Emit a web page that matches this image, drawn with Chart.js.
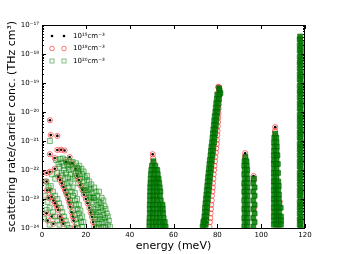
<!DOCTYPE html>
<html>
<head>
<meta charset="utf-8">
<script src="https://cdn.jsdelivr.net/npm/chart.js@4/dist/chart.umd.min.js"></script>
<style>html,body{margin:0;padding:0;background:#fff}</style>
</head>
<body>
<canvas id="c" width="339" height="254"></canvas>
<script>
// series labels
const labels = ['10¹⁵cm⁻³', '10¹⁸cm⁻³', '10²⁰cm⁻³'];
const xTicks = [0, 20, 40, 60, 80, 100, 120];

// 1e15: [energy meV, rate]
const pts15 = [
  // low energy arcs
  [3.6,5.2e-21],[4.0,1.6e-21],[7.0,1.5e-21],[3.6,3.5e-22],[7.0,4.9e-22],[8.7,5e-22],[10.3,4.7e-22],
  [5.8,2.6e-22],[12.6,2.8e-22],[11.0,1.9e-22],[13.8,1.7e-22],[5.8,1.1e-22],[15.3,1.1e-22],[3.6,8.7e-23],
  [16.0,6.3e-23],[16.8,4.5e-23],[17.5,3e-23],[18.4,2.1e-23],[19.1,1.4e-23],[20.0,1e-23],[20.8,7.1e-24],
  [21.6,5e-24],[22.2,3.4e-24],[22.8,2.4e-24],[23.3,1.6e-24],[23.8,1.1e-24],
  [7.4,5.9e-23],[8.3,4.5e-23],[9.0,3.5e-23],[9.8,2.6e-23],[10.5,2e-23],[11.3,1.4e-23],[12.0,1e-23],
  [12.5,7.6e-24],[12.9,5.4e-24],[13.5,3.5e-24],[14.0,2.5e-24],[14.4,1.8e-24],[15.0,1.1e-24],
  [2.1,7.9e-23],[2.1,4e-23],[2.3,2e-23],[3.6,2e-23],[4.4,1.2e-23],[5.2,8.9e-24],[5.9,7.1e-24],[6.7,5.4e-24],
  [7.4,4.2e-24],[8.2,2.5e-24],[9.0,1.9e-24],[9.7,1.4e-24],
  [2.1,3.2e-24],[2.6,1.8e-24],[5.2,1.4e-24],[4.4,2.5e-24],[3.0,1.1e-23],
  // peak tops
  [50.5,3.5e-22],[80.5,7.4e-20],[92.7,3.8e-22],[96.5,6.2e-23],[106.4,3e-21],
  // 118 meV column
  [117.8,3.5e-18],[118.0,1.3e-18],[117.7,5e-19],[118.0,1.6e-19],[117.8,5e-20],[118.1,2e-20],[117.7,6.3e-21],
  [118.0,2e-21],[117.8,6.3e-22],[118.2,2e-22],[117.7,6.3e-23],[118.0,2e-23],[117.8,6.3e-24],[117.9,2e-24]
];

// 1e18: same positions as 1e15 plus these
const pts18extra = [
  [50.7,2.5e-22],[51.0,1.8e-22],[49.6,3.2e-23],[51.2,1e-23],[52.6,5e-23],[50.2,3.2e-24],[53.2,1.6e-24],
  [51.6,1e-22],[54.5,4e-24],
  // 80 meV edge
  [80.5,7.1e-20],[80.7,5e-20],[80.8,3.5e-20],[80.8,2.5e-20],[80.7,1.8e-20],[80.6,1.3e-20],[80.5,8.9e-21],
  [80.4,6.3e-21],[80.3,4.5e-21],[80.2,3.2e-21],[80.1,2.2e-21],[80.0,1.6e-21],[79.8,1.1e-21],[79.7,7.9e-22],
  [79.5,5.6e-22],[79.3,4e-22],[79.1,2.8e-22],[78.9,2e-22],[78.7,1.4e-22],[78.5,1e-22],[78.3,7.1e-23],
  [78.2,5e-23],[78.0,3.5e-23],[77.9,2.5e-23],[77.7,1.8e-23],[77.5,1.3e-23],[77.4,8.9e-24],[77.2,6.3e-24],
  [77.1,4.5e-24],[76.9,3.2e-24],[76.8,2.2e-24],[76.6,1.6e-24],[76.4,1.1e-24],
  [92.6,2.8e-22],[93.0,2e-22],[92.4,3e-23],[93.4,4e-24],
  [96.6,4.5e-23],[96.8,5e-24],
  [106.3,2.2e-21],[106.5,1.6e-21],[105.9,2e-22],[106.1,4e-23],[108.5,8e-24],[107.8,1.9e-24]
];
const pts18 = pts15.concat(pts18extra);

// 1e20, low energy part (scattered squares)
const pts20low = [
  [3.6,1e-21],[1.7,4e-23],[2.1,4.2e-24],[0.9,2.1e-24],[1.5,1.3e-23],
  [6.5,2.2e-22],[8.2,2.4e-22],[9.5,2.5e-22],[11.0,2.2e-22],[12.5,2e-22],[14.0,1.9e-22],[15.5,1.7e-22],
  [17.0,1.4e-22],[18.0,1.1e-22],[8.0,1.3e-22],[10.0,1.4e-22],[12.0,1.3e-22],[14.0,1.1e-22],[16.5,8.9e-23],
  [18.5,7.1e-23],[19.5,5.6e-23],[7.0,7.9e-23],[9.0,7.9e-23],[11.0,7.9e-23],[13.0,7.1e-23],[15.0,6.3e-23],
  [17.5,5e-23],[19.0,4e-23],[20.5,4.5e-23],[18.5,2.8e-23],[20.0,2.5e-23],[21.5,2.5e-23],[22.5,3.2e-23],
  [20.0,1.6e-23],[21.5,1.4e-23],[23.0,1.6e-23],[24.5,1.8e-23],[26.0,1.8e-23],
  [21.5,8.9e-24],[23.0,7.9e-24],[24.5,8.9e-24],[26.0,7.9e-24],[27.2,1.1e-23],
  [22.5,5e-24],[24.0,4.5e-24],[25.5,5e-24],[27.0,5e-24],[28.5,5.6e-24],
  [23.5,2.8e-24],[25.0,2.8e-24],[26.5,2.5e-24],[28.0,2.8e-24],[29.5,3.2e-24],
  [24.5,1.6e-24],[26.0,1.4e-24],[27.5,1.6e-24],[29.0,1.6e-24],[30.5,1.8e-24],
  [25.0,1e-24],[27.0,1e-24],[29.0,1e-24],[31.0,1.1e-24],
  [19.0,2e-23],[20.8,2e-23],[22.2,2.2e-23],[23.8,2.5e-23],[25.2,1.3e-23],[22.3,1.1e-23],[23.8,1.1e-23],
  [25.3,6.3e-24],[26.8,7.1e-24],[28.0,8.9e-24],[23.2,3.5e-24],[24.8,3.5e-24],[26.2,3.5e-24],[27.7,4e-24],
  [29.0,4.5e-24],[24.2,2e-24],[25.8,2e-24],[27.2,2e-24],[28.7,2.2e-24],[30.0,2.5e-24],[26.0,1.1e-24],
  [28.0,1.1e-24],[30.0,1.3e-24],
  [9.0,6.3e-23],[10.5,5e-23],[11.5,3.5e-23],[12.5,2.5e-23],[13.5,1.8e-23],[14.2,1.3e-23],[15.0,8.9e-24],
  [15.5,6.3e-24],[16.2,4.5e-24],[16.8,3.2e-24],[17.3,2.2e-24],[17.8,1.6e-24],[18.3,1.1e-24],
  [10.0,3.2e-23],[11.0,1.8e-23],[12.0,1.3e-23],[12.8,8.9e-24],[13.5,6.3e-24],[14.2,4e-24],[15.0,2.8e-24],
  [15.5,2e-24],[16.0,1.4e-24],[16.5,1e-24],
  [11.8,5.6e-23],[13.0,4e-23],[14.0,2.5e-23],[15.0,1.6e-23],[16.0,1e-23],[16.8,6.3e-24],[17.5,4e-24],
  [18.2,2.5e-24],[18.9,1.6e-24],
  [4.0,2.8e-23],[5.0,1.8e-23],[6.0,1.3e-23],[7.0,1e-23],[7.8,7.1e-24],[8.5,5e-24],[9.3,3.5e-24],
  [10.0,2.5e-24],[10.8,1.8e-24],[11.5,1.3e-24],[12.2,1e-24],
  [2.5,7.9e-24],[3.5,5e-24],[5.0,3.5e-24],[6.0,2.5e-24],[7.0,1.8e-24],[8.0,1.3e-24],[3.5,1.3e-24],
  [4.5,7.1e-23],[6.0,5e-23],[3.0,2.5e-23],
  [9.0,1.8e-22],[11.5,1.6e-22],[13.0,1.5e-22],[16.0,1.2e-22],[10.0,1e-22],[12.5,1e-22],[15.5,8e-23],
  [17.0,7e-23],[14.0,5e-23],[16.5,3.5e-23],[19.5,2e-23],[22.0,1.2e-23],[23.5,1.1e-23],
  [7.5,1.6e-22],[16.5,1.1e-22],[19.0,8.9e-23],[20.5,6.3e-23],[21.5,4e-23]
];

// 1e20, dense peaks
const pts20peak = [
  // 51 meV peak
  [50.8,2e-22],
  [50.2,1.4e-22],[51.7,1.4e-22],
  [49.9,1e-22],[51.3,1e-22],[52.6,1e-22],
  [49.7,7.1e-23],[51.2,7.1e-23],[52.8,7.1e-23],
  [49.6,5e-23],[51.0,5e-23],[52.4,5e-23],[53.2,5e-23],
  [49.5,3.5e-23],[50.9,3.5e-23],[52.3,3.5e-23],[53.5,3.5e-23],
  [49.4,2.5e-23],[50.9,2.5e-23],[52.3,2.5e-23],[53.7,2.5e-23],
  [49.4,1.8e-23],[51.0,1.8e-23],[52.5,1.8e-23],[54.0,1.8e-23],
  [49.3,1.3e-23],[50.8,1.3e-23],[52.3,1.3e-23],[53.8,1.3e-23],
  [49.3,8.9e-24],[50.9,8.9e-24],[52.5,8.9e-24],[54.2,8.9e-24],
  [49.2,6.3e-24],[50.7,6.3e-24],[52.2,6.3e-24],[53.7,6.3e-24],[55.0,6.3e-24],
  [49.2,4.5e-24],[50.8,4.5e-24],[52.4,4.5e-24],[54.0,4.5e-24],[55.1,4.5e-24],
  [49.2,3.2e-24],[50.7,3.2e-24],[52.2,3.2e-24],[53.7,3.2e-24],[55.2,3.2e-24],
  [49.1,2.2e-24],[50.7,2.2e-24],[52.3,2.2e-24],[53.9,2.2e-24],[55.5,2.2e-24],
  [49.0,1.6e-24],[50.5,1.6e-24],[52.0,1.6e-24],[53.5,1.6e-24],[55.0,1.6e-24],[56.0,1.6e-24],
  [49.0,1.1e-24],[50.6,1.1e-24],[52.2,1.1e-24],[53.8,1.1e-24],[55.4,1.1e-24],[56.4,1.1e-24],
  // 80 meV band
  [80.8,6.6e-20],[81.0,5.6e-20],[81.4,4.5e-20],
  [80.0,4e-20],[80.9,4e-20],[79.8,2.8e-20],[80.7,2.8e-20],[79.5,2e-20],[80.4,2e-20],[79.3,1.4e-20],[80.2,1.4e-20],
  [79.1,1e-20],[80.0,1e-20],[78.8,7.1e-21],[79.7,7.1e-21],[78.6,5e-21],[79.5,5e-21],[78.4,3.5e-21],[79.3,3.5e-21],
  [78.2,2.5e-21],[79.1,2.5e-21],[78.0,1.8e-21],[78.9,1.8e-21],[77.8,1.3e-21],[78.7,1.3e-21],
  [77.6,8.9e-22],[78.5,8.9e-22],[77.3,6.3e-22],[78.2,6.3e-22],[77.1,4.5e-22],[78.0,4.5e-22],
  [76.9,3.2e-22],[77.8,3.2e-22],[76.6,2.2e-22],[77.5,2.2e-22],[76.4,1.6e-22],[77.3,1.6e-22],
  [76.2,1.1e-22],[77.1,1.1e-22],[76.0,7.9e-23],[76.9,7.9e-23],[75.8,5.6e-23],[76.7,5.6e-23],
  [75.6,4e-23],[76.5,4e-23],[75.4,2.8e-23],[76.3,2.8e-23],[75.2,2e-23],[76.1,2e-23],
  [75.0,1.4e-23],[75.9,1.4e-23],[74.8,1e-23],[75.7,1e-23],[74.6,7.1e-24],[75.5,7.1e-24],
  [74.4,5e-24],[75.3,5e-24],[74.3,3.5e-24],[75.2,3.5e-24],[74.1,2.5e-24],[75.0,2.5e-24],
  [74.0,1.8e-24],[74.9,1.8e-24],[73.8,1.3e-24],[74.7,1.3e-24],[73.3,1.1e-24],[73.6,1.6e-24],
  // 92 meV peak
  [92.8,2.8e-22],[92.4,2e-22],[93.3,2e-22],[92.3,1.4e-22],[93.4,1.4e-22],[92.5,1e-22],[93.6,1e-22],
  [92.3,7.1e-23],[93.4,7.1e-23],[92.5,5e-23],[93.7,5e-23],[92.3,3.5e-23],[93.5,3.5e-23],[92.5,2.5e-23],
  [93.7,2.5e-23],[92.3,1.8e-23],[93.5,1.8e-23],[92.5,1.3e-23],[93.7,1.3e-23],[92.3,8.9e-24],[93.5,8.9e-24],
  [92.5,6.3e-24],[93.7,6.3e-24],[92.3,4.5e-24],[93.5,4.5e-24],[92.5,3.2e-24],[93.7,3.2e-24],[92.3,2.2e-24],
  [93.5,2.2e-24],[92.5,1.6e-24],[93.7,1.6e-24],[92.3,1.1e-24],[93.5,1.1e-24],
  // 97 meV peak
  [96.7,5e-23],[96.4,3.5e-23],[97.0,2.5e-23],[96.4,1.8e-23],[97.0,1.3e-23],[96.4,8.9e-24],[97.0,6.3e-24],
  [96.4,4.5e-24],[97.0,3.2e-24],[96.4,2.2e-24],[97.0,1.6e-24],[96.4,1.1e-24],
  // 106 meV peak
  [106.4,1.8e-21],[106.0,1.3e-21],[106.9,1.3e-21],[105.9,8.9e-22],[107.0,8.9e-22],[106.0,6.3e-22],[107.1,6.3e-22],
  [105.9,4.5e-22],[107.0,4.5e-22],[105.8,3.2e-22],[106.9,3.2e-22],[107.4,3.2e-22],[105.9,2.2e-22],[107.0,2.2e-22],
  [105.8,1.6e-22],[106.8,1.6e-22],[107.6,1.6e-22],[105.9,1.1e-22],[107.0,1.1e-22],
  [105.8,7.9e-23],[106.8,7.9e-23],[107.7,7.9e-23],[105.9,5.6e-23],[107.0,5.6e-23],
  [105.8,4e-23],[106.8,4e-23],[107.8,4e-23],[105.9,2.8e-23],[107.0,2.8e-23],[108.0,2.8e-23],
  [105.8,2e-23],[106.9,2e-23],[107.8,2e-23],[105.9,1.4e-23],[107.0,1.4e-23],[108.1,1.4e-23],
  [105.8,1e-23],[106.9,1e-23],[108.0,1e-23],[105.9,7.1e-24],[107.0,7.1e-24],[108.2,7.1e-24],
  [105.8,5e-24],[106.9,5e-24],[108.0,5e-24],[108.9,5e-24],[105.9,3.5e-24],[107.0,3.5e-24],[108.2,3.5e-24],
  [105.8,2.5e-24],[106.9,2.5e-24],[108.0,2.5e-24],[109.0,2.5e-24],
  [105.9,1.8e-24],[107.0,1.8e-24],[108.1,1.8e-24],[109.1,1.8e-24],
  [105.8,1.3e-24],[106.9,1.3e-24],[108.0,1.3e-24],[109.0,1.3e-24],
  // 118 meV column
  [117.8,4e-18],[117.6,3.2e-18],[118.1,2.5e-18],[117.6,2e-18],[118.1,1.6e-18],[117.6,1.3e-18],[118.1,1e-18],
  [117.6,7.9e-19],[118.1,6.3e-19],[117.6,5e-19],[118.1,4e-19],[117.6,3.2e-19],[118.1,2.5e-19],[117.6,2e-19],
  [118.1,1.6e-19],[117.6,1.3e-19],[118.1,1e-19],
  [117.6,7.9e-20],[118.1,6.3e-20],[117.6,5e-20],[118.1,4e-20],[117.6,3.2e-20],[118.1,2.5e-20],[117.6,2e-20],
  [118.1,1.6e-20],[117.6,1.3e-20],[118.1,1e-20],
  [117.6,7.9e-21],[118.1,6.3e-21],[117.6,5e-21],[118.1,4e-21],[117.6,3.2e-21],[118.1,2.5e-21],[117.6,2e-21],
  [118.1,1.6e-21],[117.6,1.3e-21],[118.1,1e-21],
  [117.6,7.9e-22],[118.1,6.3e-22],[117.6,5e-22],[118.1,4e-22],[117.6,3.2e-22],[118.1,2.5e-22],[117.6,2e-22],
  [118.1,1.6e-22],[117.6,1.3e-22],[118.1,1e-22],
  [117.6,7.9e-23],[118.1,6.3e-23],[117.6,5e-23],[118.1,4e-23],[117.6,3.2e-23],[118.1,2.5e-23],[117.6,2e-23],
  [118.1,1.6e-23],[117.6,1.3e-23],[118.1,1e-23],
  [117.6,7.9e-24],[118.1,6.3e-24],[117.6,5e-24],[118.1,4e-24],[117.6,3.2e-24],[118.1,2.5e-24],[117.6,2e-24],
  [118.1,1.6e-24],[117.6,1.3e-24],[118.1,1e-24]
];
const pts20 = pts20low.concat(pts20peak);

const SUP = {'0':'⁰','1':'¹','2':'²','3':'³','4':'⁴','5':'⁵','6':'⁶','7':'⁷','8':'⁸','9':'⁹','-':'⁻'};
function pow10Label(v) {
  const e = Math.log10(v);
  if (Math.abs(e - Math.round(e)) > 1e-6) return '';
  return '10' + String(Math.round(e)).split('').map(c => SUP[c]).join('');
}

const GREEN = 'rgba(0,128,0,0.5)';
const styles = [
  {pointStyle: 'circle', pointRadius: 1.3, backgroundColor: '#000', borderColor: '#000', borderWidth: 0},
  {pointStyle: 'circle', pointRadius: 2.6, backgroundColor: 'rgba(0,0,0,0)', borderColor: 'rgba(255,0,0,0.55)', borderWidth: 1},
  {pointStyle: 'rect', pointRadius: 3.5, borderWidth: 1,
   // dense peaks pile up into solid green, so give them a fill
   borderColor: c => c.dataIndex < pts20low.length ? GREEN : 'rgba(0,95,0,0.6)',
   backgroundColor: c => c.dataIndex < pts20low.length ? 'rgba(0,128,0,0.12)' : 'rgba(0,128,0,0.85)'}
];

// frame, inward ticks and the inset legend
const decor = {
  id: 'decor',
  afterDatasetsDraw(chart) {
    const {ctx, chartArea: a, scales: {x, y}} = chart;
    ctx.save();
    ctx.strokeStyle = '#000';
    ctx.lineWidth = 1;
    ctx.beginPath();
    xTicks.forEach(t => {
      const px = Math.round(x.getPixelForValue(t)) + 0.5;
      ctx.moveTo(px, a.bottom); ctx.lineTo(px, a.bottom - 4);
      ctx.moveTo(px, a.top); ctx.lineTo(px, a.top + 4);
    });
    for (let e = -24; e <= -17; e++) {
      const py = Math.round(y.getPixelForValue(Math.pow(10, e))) + 0.5;
      ctx.moveTo(a.left, py); ctx.lineTo(a.left + 4, py);
      ctx.moveTo(a.right, py); ctx.lineTo(a.right - 4, py);
      if (e == -17) continue;
      for (let k = 2; k <= 9; k++) {
        const pm = Math.round(y.getPixelForValue(k * Math.pow(10, e))) + 0.5;
        ctx.moveTo(a.left, pm); ctx.lineTo(a.left + 2, pm);
        ctx.moveTo(a.right, pm); ctx.lineTo(a.right - 2, pm);
      }
    }
    ctx.stroke();
    ctx.strokeRect(a.left + 0.5, a.top + 0.5, a.right - a.left - 1, a.bottom - a.top);

    // legend
    const rows = [36, 48.5, 61];
    ctx.font = '7px "DejaVu Sans"';
    ctx.textBaseline = 'middle';
    rows.forEach((ry, i) => {
      [52, 64].forEach(mx => {
        ctx.beginPath();
        if (i == 0) {
          ctx.fillStyle = '#000';
          ctx.arc(mx, ry, 1.3, 0, Math.PI * 2);
          ctx.fill();
        } else if (i == 1) {
          ctx.strokeStyle = styles[1].borderColor;
          ctx.arc(mx, ry, 2.3, 0, Math.PI * 2);
          ctx.stroke();
        } else {
          ctx.strokeStyle = GREEN;
          ctx.strokeRect(mx - 2, ry - 2, 4, 4);
        }
      });
      ctx.fillStyle = '#000';
      ctx.fillText(labels[i], 73, ry);
    });
    ctx.restore();
  }
};

new Chart(document.getElementById('c'), {
  type: 'scatter',
  data: {
    datasets: [pts15, pts18, pts20].map((d, i) => Object.assign({
      label: labels[i],
      data: d,
      showLine: false,
      clip: 0,
      order: 3 - i
    }, styles[i]))
  },
  options: {
    responsive: false,
    animation: false,
    events: [],
    devicePixelRatio: 1,
    layout: {padding: {left: 0, right: 34, top: 25, bottom: 0}},
    plugins: {legend: {display: false}, tooltip: {enabled: false}},
    scales: {
      x: {
        type: 'linear', min: 0, max: 120,
        grid: {display: false, drawTicks: false},
        border: {display: false},
        afterBuildTicks: s => { s.ticks = xTicks.map(v => ({value: v})); },
        afterFit: s => { s.height = 26; },
        ticks: {padding: 3, color: '#000', font: {family: 'DejaVu Sans', size: 7}},
        title: {display: true, text: 'energy (meV)', color: '#000', padding: {top: 0, bottom: 1},
                font: {family: 'DejaVu Sans', size: 11}}
      },
      y: {
        type: 'logarithmic', min: 1e-24, max: 1e-17,
        grid: {display: false, drawTicks: false},
        border: {display: false},
        afterFit: s => { s.width = 42; },
        ticks: {autoSkip: false, padding: 3, color: '#000', font: {family: 'DejaVu Sans', size: 7},
                callback: v => pow10Label(v)},
        title: {display: true, text: 'scattering rate/carrier conc. (THz cm³)', color: '#000',
                padding: {top: 6, bottom: 0}, font: {family: 'DejaVu Sans', size: 11}}
      }
    }
  },
  plugins: [decor]
});
</script>
</body>
</html>
